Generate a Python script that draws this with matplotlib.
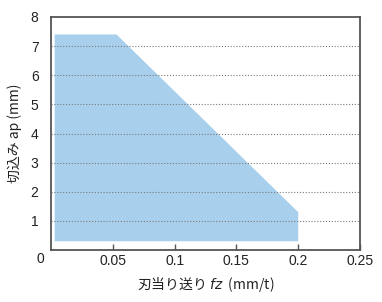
import matplotlib
matplotlib.use("Agg")
import matplotlib.pyplot as plt

plt.rcParams['font.family'] = ['Liberation Sans', 'Noto Sans CJK JP', 'DejaVu Sans']

# data: boundary of the recommended region
fz = [0.003, 0.003, 0.053, 0.2, 0.2]
ap = [0.3, 7.4, 7.4, 1.3, 0.3]
xticks = [0.05, 0.1, 0.15, 0.2, 0.25]
xticklabels = ['0.05', '0.1', '0.15', '0.2', '0.25']
yticks = [1, 2, 3, 4, 5, 6, 7, 8]
ylabel = '切込み ap (mm)'

fig = plt.figure(figsize=(3.82, 3.02), dpi=100)
ax = fig.add_axes([51/382, 1-250/302, (360-51)/382, (250-17)/302])

ax.fill(fz, ap, color='#a8d0ec', lw=0, zorder=1)
for y in yticks[:-1]:
    ax.axhline(y, color='#7a7a7a', lw=0.8, ls=(0, (1.0, 1.6)), zorder=2)

ax.set_xlim(0, 0.25)
ax.set_ylim(0, 8)
ax.set_xticks(xticks)
ax.set_xticklabels(xticklabels)
ax.set_yticks(yticks)
ax.tick_params(axis='x', direction='in', length=4, width=1, color='#555555',
               labelsize=10, pad=3, labelcolor='#222222')
ax.tick_params(axis='y', length=0, labelsize=10, pad=9, labelcolor='#222222')
for s in ax.spines.values():
    s.set_color('#555555')
    s.set_linewidth(1.3)

ax.text(-0.0088, -0.3, '0', transform=ax.transData, ha='center', va='center',
        fontsize=10, color='#222222', clip_on=False)

ax.set_ylabel(ylabel, fontsize=10, color='#222222', labelpad=6,
              family=['Noto Sans CJK JP', 'DejaVu Sans'])
fig.text(206/382, 1-284/302, r'刃当り送り $\mathit{fz}$  (mm/t)', ha='center', va='center',
         fontsize=10, color='#222222', family=['Noto Sans CJK JP', 'DejaVu Sans'])

fig.savefig('out.png', dpi=100)
